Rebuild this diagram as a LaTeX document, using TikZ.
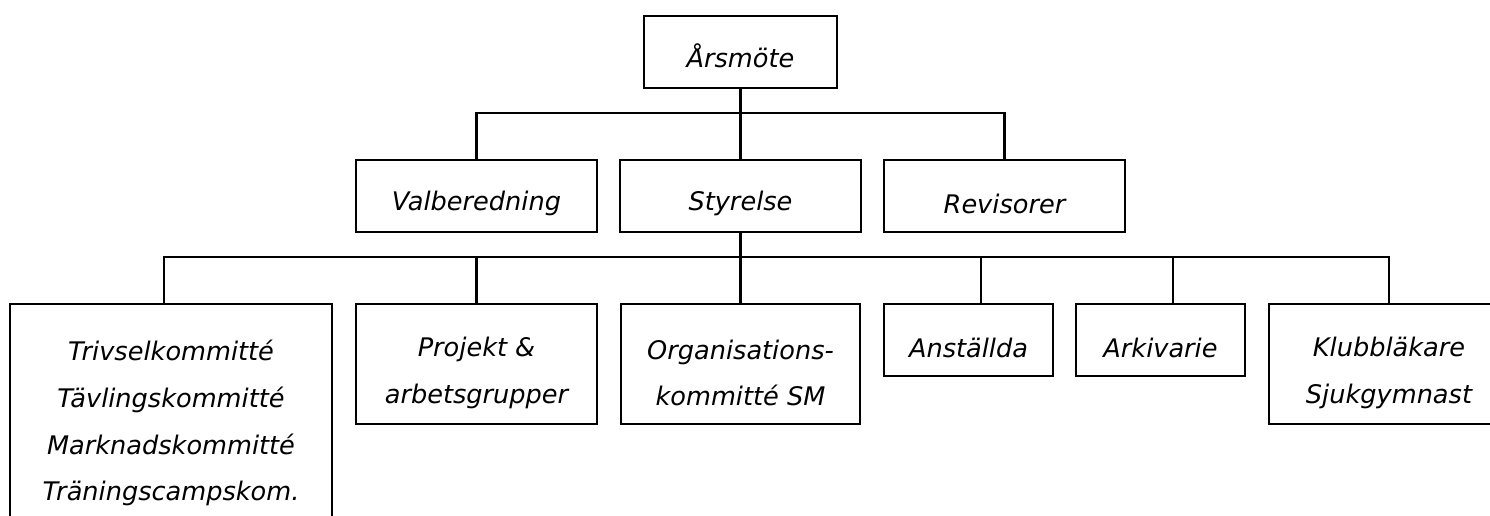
\documentclass[tikz,border=0pt]{standalone}
\usepackage{fontspec}
\setmainfont{DejaVu Sans}
\usetikzlibrary{calc}
\newcommand\lift[1]{\rule{0pt}{#1em}}
\tikzset{
	orgbox/.style={draw, line width=1.6pt, inner sep=0pt, align=center, font=\itshape\fontsize{19.2}{35}\selectfont},
	sz/.style 2 args={minimum width=#1*0.75pt, minimum height=#2*0.75pt},
	bus/.style={line width=1.6pt}
}

\begin{document}
\begin{tikzpicture}[x=0.75pt, y=-0.75pt]
		%%%%% START %%%%%
		\useasboundingbox (0, 0) rectangle (1490, 516);
		
		\node[orgbox, sz={193}{72}] (arsmote) at (740.5, 52) {\lift{1.2}Årsmöte};
		
		\node[orgbox, sz={241}{72}] (valb) at (476.5, 196) {\lift{1.35}Valberedning};
		\node[orgbox, sz={241}{72}] (styrelse) at (740.5, 196) {\lift{1.35}Styrelse};
		\node[orgbox, sz={241}{72}] (revisorer) at (1004.5, 196) {\lift{1.35}Revisorer};
		
		\node[orgbox, sz={322}{228}] (trivsel) at (171, 418) {\lift{1.2}Trivselkommitté\\Tävlingskommitté\\Marknadskommitté\\Träningscampskom.};
		\node[orgbox, sz={241}{120}] (projekt) at (476.5, 364) {\lift{1.45}Projekt \&\\arbetsgrupper};
		\node[orgbox, sz={239}{120}] (organisation) at (740.5, 364) {\lift{1.45}Organisations-\\kommitté SM};
		\node[orgbox, sz={169}{72}] (anstallda) at (968.5, 340) {\lift{1.35}Anställda};
		\node[orgbox, sz={169}{72}] (arkivarie) at (1160.5, 340) {\lift{1.35}Arkivarie};
		\node[orgbox, sz={240}{120}] (klubb) at (1389, 364) {\lift{1.45}Klubbläkare\\Sjukgymnast};
		
		% upper bus
		\coordinate (hub1) at ($(arsmote.south)+(0, 24)$);
		\draw[bus] (arsmote.south) -- (hub1);
		\draw[bus] (hub1) -| (valb.north);
		\draw[bus] (hub1) -| (revisorer.north);
		\draw[bus] (hub1) -- (styrelse.north);
		
		% lower bus
		\coordinate (hub2) at ($(styrelse.south)+(0, 24)$);
		\draw[bus] (styrelse.south) -- (hub2);
		\draw[bus] (hub2) -| ([xshift=-5.25pt]trivsel.north);
		\draw[bus] (hub2) -| (projekt.north);
		\draw[bus] (hub2) -- (organisation.north);
		\draw[bus] (hub2) -| ([xshift=9.375pt]anstallda.north);
		\draw[bus] (hub2) -| ([xshift=9.375pt]arkivarie.north);
		\draw[bus] (hub2) -| (klubb.north);
		
		%%%%% END %%%%%
\end{tikzpicture}
\end{document}
